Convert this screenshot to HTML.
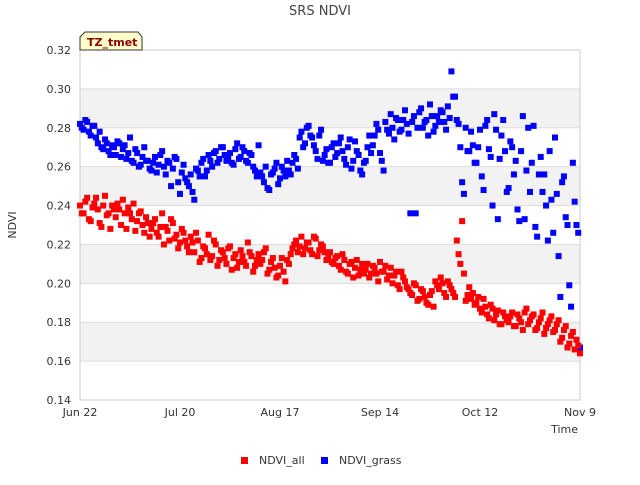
<!DOCTYPE html>
<html><head><meta charset="utf-8"><style>
body{margin:0;background:#fff;font-family:"Liberation Sans",sans-serif;}
svg text{font-family:"DejaVu Sans","Liberation Sans",sans-serif;}
</style></head><body>
<svg id="chart" width="640" height="480" xmlns="http://www.w3.org/2000/svg">
<text x="320" y="15" text-anchor="middle" font-size="13" fill="#444">SRS NDVI</text>
<g id="bands"></g>
<g id="grid"></g>
<rect x="80" y="50" width="500" height="350" fill="none" stroke="#ccc"/>
<g id="ticks"></g>
<g id="pts"></g>
<text x="16" y="225" text-anchor="middle" font-size="11" fill="#333" transform="rotate(-90 16 225)">NDVI</text>
<text x="578" y="433" text-anchor="end" font-size="11" fill="#333">Time</text>
<g>
<path d="M80,50 L80,37 L85,32 L138,32 L142,37 L142,50 Z" fill="#ffffcc" stroke="#333"/>
<text x="87" y="46" font-size="11" font-weight="bold" fill="#8b0000">TZ_tmet</text>
</g>
<g>
<rect x="241" y="457" width="7" height="7" fill="#f00"/>
<text x="259" y="464" font-size="11" fill="#333">NDVI_all</text>
<rect x="321" y="457" width="7" height="7" fill="#00f"/>
<text x="339" y="464" font-size="11" fill="#333">NDVI_grass</text>
</g>
</svg>
<script>
const yTicks=[0.14,0.16,0.18,0.20,0.22,0.24,0.26,0.28,0.30,0.32];
const xTickLabels=["Jun 22","Jul 20","Aug 17","Sep 14","Oct 12","Nov 9"];
const xTickDays=[0,28,56,84,112,140];
const ndviAll=[.240,.236,.244,.232,.241,.238,.229,.245,.236,.240,
.234,.238,.243,.228,.236,.241,.232,.237,.226,.231,
.228,.233,.224,.236,.229,.222,.231,.225,.221,.226,
.219,.224,.216,.222,.213,.218,.225,.214,.220,.212,
.216,.210,.219,.213,.208,.217,.211,.221,.214,.209,
.215,.212,.218,.207,.213,.203,.209,.206,.212,.215,
.220,.216,.224,.218,.221,.215,.223,.217,.219,.212,
.216,.210,.214,.207,.212,.205,.211,.208,.204,.210,
.207,.203,.209,.205,.211,.206,.202,.208,.204,.199,
.206,.201,.197,.194,.199,.192,.196,.190,.194,.188,
.199,.203,.195,.201,.197,.193,.215,.232,.191,.198,
.195,.190,.187,.192,.184,.189,.181,.186,.179,.183,
.180,.185,.178,.182,.176,.187,.181,.184,.177,.182,
.174,.179,.183,.176,.181,.172,.178,.169,.175,.171,.164];
const ndviAllHalf=[.236,.242,.233,.239,.244,.231,.240,.235,.228,.238,
.241,.230,.236,.239,.233,.227,.236,.230,.234,.224,
.231,.226,.229,.220,.227,.233,.223,.218,.228,.222,
.216,.221,.226,.211,.219,.215,.212,.222,.209,.217,
.213,.218,.207,.215,.211,.214,.209,.216,.206,.212,
.210,.216,.205,.211,.208,.204,.213,.201,.210,.218,
.222,.219,.215,.221,.217,.224,.214,.220,.216,.214,
.211,.213,.209,.215,.206,.210,.203,.212,.207,.205,
.210,.205,.208,.201,.206,.209,.204,.200,.206,.197,
.203,.198,.195,.200,.191,.197,.193,.189,.196,.201,
.197,.200,.193,.199,.195,.222,.210,.205,.194,.192,
.189,.193,.185,.188,.182,.187,.184,.179,.185,.181,
.183,.178,.184,.180,.185,.179,.183,.176,.180,.185,
.177,.181,.175,.179,.170,.176,.167,.173,.166,.168];
const ndviGrass=[.282,.279,.283,.276,.281,.272,.270,.274,.268,.271,
.266,.272,.269,.264,.275,.262,.267,.261,.270,.263,
.258,.265,.261,.268,.256,.262,.259,.264,.246,.261,
.252,.256,.243,.258,.262,.255,.266,.260,.268,.264,
.270,.263,.267,.261,.272,.265,.268,.262,.266,.258,
.271,.255,.260,.248,.257,.262,.254,.258,.263,.256,
.266,.259,.278,.272,.281,.275,.268,.276,.263,.269,
.262,.272,.267,.275,.264,.270,.259,.273,.266,.256,
.263,.276,.271,.282,.267,.258,.279,.287,.274,.284,
.279,.289,.277,.283,.236,.288,.280,.284,.292,.278,
.286,.289,.283,.291,.309,.296,.282,.252,.280,.268,
.271,.262,.279,.248,.284,.265,.287,.233,.276,.268,
.249,.270,.263,.232,.286,.258,.247,.281,.224,.265,
.256,.222,.243,.275,.214,.252,.234,.199,.262,.230,.167];
const ndviGrassHalf=[.280,.284,.278,.281,.275,.278,.269,.272,.266,.270,
.273,.265,.271,.267,.263,.269,.260,.265,.263,.259,
.262,.257,.266,.260,.263,.250,.265,.252,.257,.254,
.250,.247,.259,.255,.264,.258,.263,.267,.262,.270,
.266,.265,.262,.269,.264,.270,.263,.267,.260,.255,
.257,.252,.249,.256,.259,.251,.260,.255,.258,.262,
.264,.275,.270,.280,.276,.271,.264,.279,.266,.262,
.270,.265,.272,.268,.261,.274,.263,.268,.258,.262,
.270,.267,.276,.279,.263,.283,.277,.280,.285,.278,
.284,.282,.236,.286,.280,.290,.283,.276,.286,.281,
.283,.288,.279,.285,.296,.284,.270,.246,.268,.278,
.262,.270,.255,.281,.269,.240,.279,.264,.284,.247,
.273,.256,.238,.268,.233,.280,.262,.229,.256,.247,
.240,.268,.226,.246,.193,.255,.230,.188,.242,.226];
const NS="http://www.w3.org/2000/svg";
const X0=80,X1=580,Y0=400,Y1=50,D0=0,D1=140,V0=0.14,V1=0.32;
function xs(d){return X0+(d-D0)/(D1-D0)*(X1-X0);}
function ys(v){return Y0-(v-V0)/(V1-V0)*(Y0-Y1);}
function mk(t,a,p){const e=document.createElementNS(NS,t);for(const k in a)e.setAttribute(k,a[k]);p.appendChild(e);return e;}
const bands=document.getElementById('bands'),grid=document.getElementById('grid'),ticks=document.getElementById('ticks'),pts=document.getElementById('pts');
for(let i=1;i<yTicks.length-1;i+=2){
 const b=mk('rect',{x:X0,y:ys(yTicks[i+1]),width:X1-X0,height:ys(yTicks[i])-ys(yTicks[i+1]),fill:'#f2f2f2'},bands);
 
 
}
yTicks.forEach(v=>{
 const l=mk('line',{x1:X0,x2:X1,y1:ys(v),y2:ys(v),stroke:'#ddd'},grid);
 
 
 const t=mk('text',{x:71,y:ys(v)+4,'text-anchor':'end','font-size':11,fill:'#333'},ticks);
 t.textContent=v.toFixed(2);
 
 
});
xTickDays.forEach((d,i)=>{
 const t=mk('text',{x:xs(d),y:416,'text-anchor':'middle','font-size':11,fill:'#333'},ticks);
 t.textContent=xTickLabels[i];
 
 
});
function series(arr,off,color,name){
 arr.forEach((v,i)=>{
  const r=mk('rect',{x:xs(i+off)-3,y:ys(v)-3,width:6,height:6,fill:color},pts);
  
  
 });
}
series(ndviGrass,0,'#00f','ndvi-grass-point');
series(ndviGrassHalf,0.5,'#00f','ndvi-grass-point');
series(ndviAll,0,'#f00','ndvi-all-point');
series(ndviAllHalf,0.5,'#f00','ndvi-all-point');
</script>
</body></html>
